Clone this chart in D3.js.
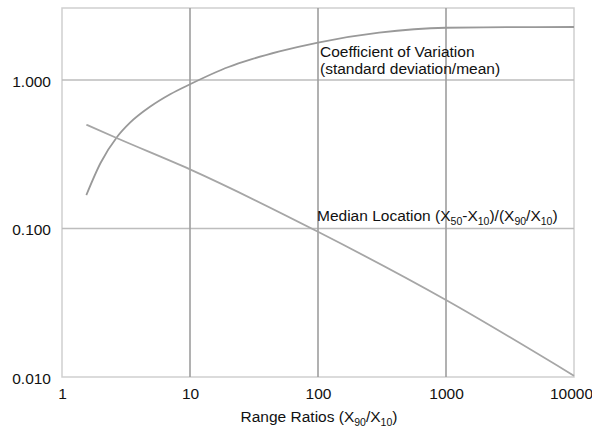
<!DOCTYPE html>
<html><head><meta charset="utf-8">
<script src="https://cdn.jsdelivr.net/npm/d3@7"></script>
<style>body{margin:0;background:#fff}text{font-family:"Liberation Sans",Arial,sans-serif;fill:#111}</style>
</head><body><svg id="c" width="592" height="429"></svg>
<script>
const xTicks = [1, 10, 100, 1000, 10000];
const yTicks = [0.01, 0.1, 1];
const yTickLabels = ["0.010", "0.100", "1.000"];
const cvRatio = [1.55, 2, 2.7, 3.4, 4.9, 7, 10, 20, 30, 50, 100, 300, 1000, 3000, 10000];
const cvValue = [0.168, 0.276, 0.415, 0.516, 0.663, 0.802, 0.936, 1.223, 1.376, 1.558, 1.788, 2.082, 2.248, 2.268, 2.275];
const medRatio = [1.55, 2.7, 10, 100, 1000, 10000];
const medValue = [0.5, 0.405, 0.25, 0.095, 0.033, 0.0102];

const svg = d3.select("#c");
const L = 62, R = 574, T = 8, B = 377;
const FS = 15.5;
const x = d3.scaleLog().domain([1, 10000]).range([L, R]);
const y = d3.scaleLog().domain([0.01, 1]).range([B, 80]);

// frame
svg.append("rect").attr("x", L).attr("y", T).attr("width", R - L).attr("height", B - T)
  .attr("fill", "none").attr("stroke", "#cfcfcf").attr("stroke-width", 1.5);

// horizontal grid
svg.append("g").selectAll("line").data(yTicks.slice(1)).join("line")
  .attr("x1", L).attr("x2", R).attr("y1", d => y(d)).attr("y2", d => y(d))
  .attr("stroke", "#bdbdbd").attr("stroke-width", 1.6);
// vertical grid
svg.append("g").selectAll("line").data(xTicks.slice(1, -1)).join("line")
  .attr("x1", d => x(d)).attr("x2", d => x(d)).attr("y1", T).attr("y2", B)
  .attr("stroke", "#9e9e9e").attr("stroke-width", 1.6);

// axes (labels only)
const xAxis = d3.axisBottom(x).tickValues(xTicks).tickFormat(d3.format("d")).tickSize(0).tickPadding(11);
const gx = svg.append("g").attr("transform", `translate(0,${B})`).call(xAxis);
gx.select(".domain").remove();
gx.selectAll("text").attr("font-size", FS).attr("font-family", "Liberation Sans, Arial, sans-serif").attr("fill", "#111")
  .attr("dx", d => d === 10000 ? -3 : 0);

const yAxis = d3.axisLeft(y).tickValues(yTicks).tickFormat((d, i) => yTickLabels[i]).tickSize(0).tickPadding(11);
const gy = svg.append("g").attr("transform", `translate(${L},0)`).call(yAxis);
gy.select(".domain").remove();
gy.selectAll("text").attr("font-size", FS).attr("font-family", "Liberation Sans, Arial, sans-serif").attr("fill", "#111").attr("dy", "0.4em");

// curves
const line = d3.line().x(d => x(d[0])).y(d => y(d[1])).curve(d3.curveMonotoneX);
svg.append("path").datum(cvRatio.map((r, i) => [r, cvValue[i]]))
  .attr("d", line).attr("fill", "none").attr("stroke", "#999").attr("stroke-width", 1.8);
svg.append("path").datum(medRatio.map((r, i) => [r, medValue[i]]))
  .attr("d", line).attr("fill", "none").attr("stroke", "#a6a6a6").attr("stroke-width", 1.8);

// annotations
const ann = svg.append("g").attr("font-size", FS);
ann.append("text").attr("x", 320).attr("y", 57).text("Coefficient of Variation");
ann.append("text").attr("x", 320).attr("y", 74).text("(standard deviation/mean)");
function sub(t, parts) {
  let down = false;
  parts.forEach(p => {
    if (p.s) {
      t.append("tspan").attr("dy", 4).attr("font-size", 10.5).text(p.s);
      down = true;
    } else {
      const ts = t.append("tspan").text(p.t);
      if (down) { ts.attr("dy", -4); down = false; }
    }
  });
}
const med = ann.append("text").attr("x", 317).attr("y", 221);
sub(med, [{t:"Median Location (X"},{s:"50"},{t:"-X"},{s:"10"},{t:")/(X"},{s:"90"},{t:"/X"},{s:"10"},{t:")"}]);

const xt = svg.append("text").attr("x", 319).attr("y", 422).attr("text-anchor", "middle").attr("font-size", FS);
sub(xt, [{t:"Range Ratios (X"},{s:"90"},{t:"/X"},{s:"10"},{t:")"}]);
</script></body></html>
